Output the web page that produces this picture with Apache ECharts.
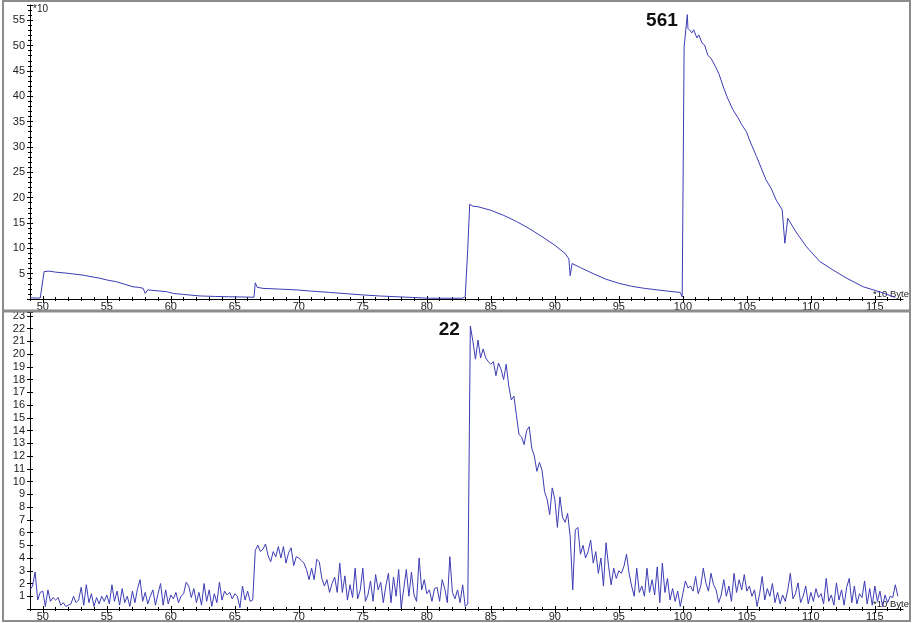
<!DOCTYPE html>
<html>
<head>
<meta charset="utf-8">
<script src="https://cdn.jsdelivr.net/npm/echarts@6/dist/echarts.min.js"></script>
<style>
  html, body { margin: 0; padding: 0; background: #fff; }
  #chart { width: 912px; height: 623px; }
</style>
</head>
<body>
<div id="chart"></div>
<script>
// x tick labels (units of 10 byte)
const majorX = [50, 55, 60, 65, 70, 75, 80, 85, 90, 95, 100, 105, 110, 115];

// upper panel: byte position vs value (*10)
const topX = [49.0, 49.8, 49.9, 50.1, 50.5, 51.0, 51.85, 52.5, 53.15, 54.0, 54.45, 55.1, 55.76, 56.4, 57.06, 57.5,
  57.84, 58.0, 58.2, 59.0, 59.66, 60.2, 61.0, 62.3, 63.5, 64.5, 65.5, 66.5, 66.6, 66.75, 67.2, 68.5, 69.8, 71.0,
  72.4, 73.7, 75.0, 76.3, 77.6, 78.9, 80.2, 81.5, 82.8, 83.0, 83.2, 83.35, 83.6, 84.0, 85.0, 86.0, 87.0, 88.0,
  89.0, 90.0, 90.8, 91.1, 91.2, 91.35, 92.0, 93.0, 94.0, 95.0, 96.0, 97.0, 98.0, 99.0, 99.8, 99.95, 100.1,
  100.35, 100.4, 100.55, 100.7, 100.85, 101.1, 101.25, 101.5, 101.7, 101.95, 102.2, 102.6, 102.85, 103.2, 103.5,
  103.9, 104.3, 104.6, 104.97, 105.2, 105.76, 106.5, 106.9, 107.3, 107.76, 107.97, 108.2, 108.9, 109.66, 110.7,
  111.74, 112.8, 114.1, 115.4, 116.6];
const topY = [0.2, 0.2, 0.3, 5.4, 5.5, 5.3, 5.1, 4.9, 4.7, 4.3, 4.1, 3.7, 3.4, 2.9, 2.4, 2.3,
  2.1, 1.1, 1.8, 1.6, 1.45, 1.1, 0.9, 0.6, 0.5, 0.45, 0.4, 0.35, 3.2, 2.3, 2.1, 1.95, 1.8, 1.55,
  1.3, 1.05, 0.8, 0.6, 0.45, 0.3, 0.15, 0.15, 0.15, 0.5, 10, 18.7, 18.3, 18.2, 17.5, 16.5, 15.3, 13.9,
  12.3, 10.6, 9.0, 7.9, 4.6, 7.0, 6.2, 5.0, 3.9, 3.1, 2.5, 2.1, 1.8, 1.5, 1.3, 0.4, 49.7,
  56.1, 53.4, 53.0, 52.5, 53.1, 51.5, 52.1, 50.5, 50.1, 48.1, 47.5, 45.6, 44.2, 41.6, 39.6,
  37.4, 35.8, 34.4, 33.0, 31.4, 28.1, 23.5, 21.8, 19.5, 17.6, 11.0, 15.9, 13.0, 10.3, 7.4,
  5.7, 4.1, 2.4, 1.4, 0.3];

// lower panel: one value every 0.2 (*10 byte) starting at 49.0
const lowStart = 49.0;
const lowStep = 0.2;
const lowY = [
  1.5, 1.8, 2.9, 0.7, 1.3, 1.4, 0.2, 1.5, 0.6, 0.9,
  0.7, 0.9, 0.3, 0.5, 0.2, 0.3, 0.4, 1.0, 0.5, 0.7,
  1.7, 0.3, 1.9, 0.5, 1.2, 0.2, 0.9, 0.4, 1.0, 0.6,
  1.1, 0.4, 1.9, 0.6, 1.4, 0.3, 1.6, 0.5, 1.0, 0.2,
  1.4, 0.5, 1.6, 2.3, 0.6, 1.3, 0.4, 1.0, 1.5, 0.3,
  1.2, 2.0, 0.3, 1.5, 0.4, 1.1, 0.8, 1.3, 0.5, 1.0,
  1.2, 2.1, 1.8, 0.9, 1.6, 0.5, 1.3, 0.3, 2.0, 0.6,
  1.5, 0.2, 1.2, 0.5, 2.1, 0.7, 1.4, 1.1, 1.3, 0.8,
  1.2, 1.0, 0.1, 1.8, 0.7, 1.4, 0.6, 0.7, 4.6, 5.0,
  4.5, 4.7, 5.1, 4.2, 3.7, 4.5, 4.1, 4.9, 4.0, 4.9,
  3.6, 4.4, 4.8, 3.4, 4.1, 4.0, 3.8, 3.6, 3.1, 2.3,
  3.2, 2.3, 3.9, 3.7, 2.4, 1.8, 2.3, 1.3, 2.0, 2.5,
  1.3, 3.6, 1.3, 2.6, 0.7, 1.9, 0.9, 3.2, 0.8, 1.5,
  3.2, 0.6, 1.1, 2.2, 0.6, 2.7, 1.5, 2.1, 0.5, 1.8,
  2.8, 0.5, 2.5, 1.0, 3.1, 0.1, 1.6, 3.1, 1.0, 2.9,
  1.1, 0.6, 4.0, 1.5, 2.3, 1.2, 1.5, 0.6, 1.6, 1.7,
  0.6, 2.3, 1.6, 0.5, 4.1, 1.3, 0.8, 1.5, 0.5, 1.9,
  0.2, 0.4, 22.2, 21.0, 19.6, 21.1, 19.7, 20.4, 19.7, 19.4,
  19.2, 19.4, 18.3, 19.3, 18.8, 18.0, 19.2, 17.5, 16.4, 16.7,
  15.2, 13.7, 13.5, 12.9, 14.0, 14.3, 12.6, 12.0, 10.8, 11.5,
  10.9, 9.2, 8.6, 7.4, 9.5, 8.6, 6.4, 8.8, 7.2, 6.8,
  7.5, 5.7, 1.5, 6.2, 6.4, 4.3, 5.0, 4.0, 4.5, 5.4,
  3.6, 4.5, 2.8, 4.0, 1.8, 5.2, 3.35, 1.9, 3.2, 2.4,
  3.0, 2.8, 3.35, 4.3, 2.8, 1.8, 1.0, 3.2, 1.3, 1.8,
  1.0, 3.2, 1.3, 2.3, 1.1, 3.3, 0.5, 3.6, 1.3, 2.4,
  0.7, 1.6, 0.6, 1.4, 0.2, 1.2, 2.2, 1.65, 1.8, 1.4,
  2.55, 1.2, 1.8, 3.2, 2.05, 1.4, 2.8, 1.9, 1.5, 0.5,
  1.1, 2.3, 1.0, 1.8, 0.6, 2.8, 1.3, 2.3, 1.5, 2.7,
  1.4, 1.8, 1.0, 1.5, 0.2, 1.2, 2.55, 0.7, 1.6, 1.0,
  2.0, 0.5, 1.3, 0.4, 1.1, 0.6, 1.5, 2.8, 0.8, 1.2,
  2.05, 0.5, 1.0, 1.8, 0.4, 1.3, 0.6, 1.6, 0.9, 1.2,
  0.4, 2.4, 0.6, 1.1, 0.3, 2.05, 0.7, 1.5, 0.3, 1.7,
  2.4, 0.5, 1.8, 0.4, 1.2, 0.9, 2.2, 0.4, 1.6, 0.3,
  1.8, 0.6, 1.4, 0.2, 1.1, 0.5, 1.0, 0.9, 1.9, 1.0
];

const X_MIN = 49, X_MAX = 117.2;
const minorX = [];
for (let v = X_MIN; v <= X_MAX; v++) minorX.push(v);

const lineColor = '#3c3cb4';
const labelFont = { fontFamily: 'Liberation Sans', fontSize: 11, color: '#222' };

function xAxes(g) {
  const base = { gridIndex: g, type: 'value', position: 'bottom', min: X_MIN, max: X_MAX, splitLine: { show: false } };
  const tickLine = { lineStyle: { color: '#000', width: 1 } };
  return [
    Object.assign({}, base, {
      axisLine: { lineStyle: { color: '#000', width: 1 } },
      axisTick: Object.assign({ customValues: majorX, length: 4 }, tickLine),
      axisLabel: Object.assign({ customValues: majorX, margin: 2 }, labelFont),
      name: '*10 Byte', nameLocation: 'end', nameGap: -30,
      nameTextStyle: Object.assign({}, labelFont, { fontSize: 9.5, align: 'left', verticalAlign: 'bottom', color: '#222' })
    }),
    Object.assign({}, base, { axisLine: { show: false }, axisLabel: { show: false },
      axisTick: Object.assign({ customValues: majorX, length: 3, inside: true }, tickLine) }),
    Object.assign({}, base, { axisLine: { show: false }, axisLabel: { show: false },
      axisTick: Object.assign({ customValues: minorX, length: 2 }, tickLine) }),
    Object.assign({}, base, { axisLine: { show: false }, axisLabel: { show: false },
      axisTick: Object.assign({ customValues: minorX, length: 2, inside: true }, tickLine) })
  ];
}

function yAxes(g, max, interval, minorSplit, fmt, name) {
  const base = { gridIndex: g, type: 'value', position: 'left', min: 0, max: max, interval: interval, splitLine: { show: false } };
  const tickLine = { lineStyle: { color: '#000', width: 1 } };
  return [
    Object.assign({}, base, {
      axisLine: { show: true, lineStyle: { color: '#000', width: 1 } },
      axisTick: Object.assign({ length: 3 }, tickLine),
      minorTick: { show: minorSplit > 1, splitNumber: minorSplit, length: 2, lineStyle: { color: '#000' } },
      axisLabel: Object.assign({ margin: 5, formatter: fmt }, labelFont),
      name: name, nameLocation: 'end', nameGap: 1,
      nameTextStyle: Object.assign({}, labelFont, { fontSize: 10, align: 'left', verticalAlign: 'top', padding: [0, 0, 0, 3] })
    }),
    Object.assign({}, base, {
      axisLine: { show: false }, axisLabel: { show: false },
      axisTick: Object.assign({ length: 3, inside: true }, tickLine),
      minorTick: { show: minorSplit > 1, splitNumber: minorSplit, length: 2, lineStyle: { color: '#000' } }
    })
  ];
}

function peakMark(fmt, distance, offset) {
  return {
    symbol: 'circle', symbolSize: 1,
    itemStyle: { color: 'rgba(0,0,0,0)' },
    data: [{ type: 'max' }],
    label: {
      show: true, position: 'left', distance: distance, offset: offset, formatter: fmt,
      fontFamily: 'Liberation Sans', fontWeight: 'bold', fontSize: 19, color: '#111'
    }
  };
}

const topData = topX.map((x, i) => [x, topY[i]]);
const lowData = lowY.map((v, i) => [lowStart + i * lowStep, v]);

const chart = echarts.init(document.getElementById('chart'), null, { renderer: 'canvas' });
chart.setOption({
  animation: false,
  backgroundColor: '#fff',
  grid: [
    { left: 30, top: 5, width: 873, height: 294 },
    { left: 30, top: 312, width: 873, height: 297 }
  ],
  xAxis: xAxes(0).concat(xAxes(1)),
  yAxis: yAxes(0, 58, 5, 5, v => (v > 0 && v % 5 === 0) ? String(v) : '', '*10')
    .concat(yAxes(1, 23.3, 1, 1, v => (v > 0 && Number.isInteger(v)) ? String(v) : '', '')),
  series: [
    {
      type: 'line', xAxisIndex: 0, yAxisIndex: 0, data: topData, showSymbol: false,
      lineStyle: { color: lineColor, width: 1 },
      markPoint: peakMark(p => String(Math.round(p.value * 10)), 9, [0, 6])
    },
    {
      type: 'line', xAxisIndex: 4, yAxisIndex: 2, data: lowData, showSymbol: false,
      lineStyle: { color: lineColor, width: 1 },
      markPoint: peakMark(p => String(Math.round(p.value)), 10, [0, 4])
    }
  ],
  graphic: [
    { type: 'rect', shape: { x: 3, y: 1, width: 907, height: 620 },
      style: { fill: 'none', stroke: '#8c8c8c', lineWidth: 2 }, z: 100 },
    { type: 'line', shape: { x1: 3, y1: 311, x2: 910, y2: 311 },
      style: { stroke: '#8c8c8c', lineWidth: 3 }, z: 100 }
  ]
});
</script>
</body>
</html>
